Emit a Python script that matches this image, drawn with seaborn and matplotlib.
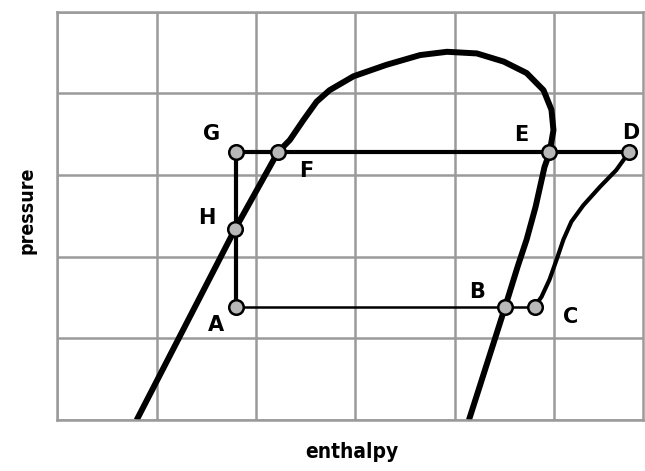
import matplotlib.pyplot as plt
import seaborn as sns

sns.set_style("white")

# saturation curve (liquid line -> dome -> vapour line), grid units
sat_h = [0.80, 1.79, 2.22, 2.34, 2.48, 2.61, 2.74, 2.98, 3.31, 3.65, 3.92, 4.22, 4.49, 4.72,
         4.89, 4.97, 4.99, 4.95, 4.90, 4.81, 4.72, 4.63, 4.50, 4.14]
sat_p = [0.00, 2.34, 3.28, 3.43, 3.68, 3.90, 4.04, 4.21, 4.35, 4.47, 4.51, 4.49, 4.39, 4.25,
         4.04, 3.80, 3.55, 3.27, 3.10, 2.61, 2.21, 1.88, 1.37, 0.00]

# cycle: G -> D across the top, G -> A down, A -> C along the bottom
top_h = [1.80, 5.75]
top_p = [3.28, 3.28]
left_h = [1.80, 1.80]
left_p = [3.28, 1.39]
low_h = [1.80, 4.80]
low_p = [1.39, 1.39]

# compression curve C -> D
comp_h = [4.80, 4.87, 4.95, 5.02, 5.09, 5.17, 5.29, 5.46, 5.62, 5.75]
comp_p = [1.39, 1.51, 1.72, 1.96, 2.21, 2.43, 2.63, 2.86, 3.06, 3.28]

# state points and their labels
pt_names = ["G", "F", "E", "D", "H", "A", "B", "C"]
pt_h = [1.80, 2.22, 4.95, 5.75, 1.79, 1.80, 4.50, 4.80]
pt_p = [3.28, 3.28, 3.28, 3.28, 2.34, 1.39, 1.39, 1.39]
lab_h = [1.55, 2.51, 4.67, 5.77, 1.51, 1.60, 4.22, 5.16]
lab_p = [3.50, 3.05, 3.49, 3.52, 2.48, 1.16, 1.57, 1.26]

fig = plt.figure(figsize=(6.45, 4.71), dpi=100)
ax = fig.add_axes([0.0884, 0.108, 0.9085, 0.867])

sns.lineplot(x=sat_h, y=sat_p, sort=False, estimator=None, color="black", lw=4.3, ax=ax,
             solid_capstyle="butt", solid_joinstyle="round")
sns.lineplot(x=top_h, y=top_p, sort=False, estimator=None, color="black", lw=3.0, ax=ax)
sns.lineplot(x=left_h, y=left_p, sort=False, estimator=None, color="black", lw=3.0, ax=ax)
sns.lineplot(x=low_h, y=low_p, sort=False, estimator=None, color="black", lw=1.8, ax=ax)
sns.lineplot(x=comp_h, y=comp_p, sort=False, estimator=None, color="black", lw=3.0, ax=ax,
             solid_joinstyle="round")

sns.scatterplot(x=pt_h, y=pt_p, s=110, color="#b8b8b8", edgecolor="black", linewidth=1.8,
                zorder=5, ax=ax)

for name, x, y in zip(pt_names, lab_h, lab_p):
    ax.text(x, y, name, ha="center", va="center", fontsize=15, fontweight="bold",
            family="DejaVu Sans", color="black")

ax.set_xlim(0, 5.89)
ax.set_ylim(0, 5)
ax.set_xticks([0, 1, 2, 3, 4, 5])
ax.set_yticks([0, 1, 2, 3, 4, 5])
ax.tick_params(length=0, labelbottom=False, labelleft=False)
ax.grid(True, color="#9a9a9a", lw=1.8)
ax.set_axisbelow(True)
for s in ax.spines.values():
    s.set_color("#9a9a9a")
    s.set_linewidth(1.8)

ax.text(-0.051, 0.515, "pressure", rotation=90, ha="center", va="center", transform=ax.transAxes,
        fontsize=14, fontweight="bold", fontstretch="condensed", family="DejaVu Sans", color="black")
ax.text(0.503, -0.078, "enthalpy", ha="center", va="center", transform=ax.transAxes,
        fontsize=15, fontweight="bold", fontstretch="condensed", family="DejaVu Sans", color="black")

fig.savefig("out.png", dpi=100)
